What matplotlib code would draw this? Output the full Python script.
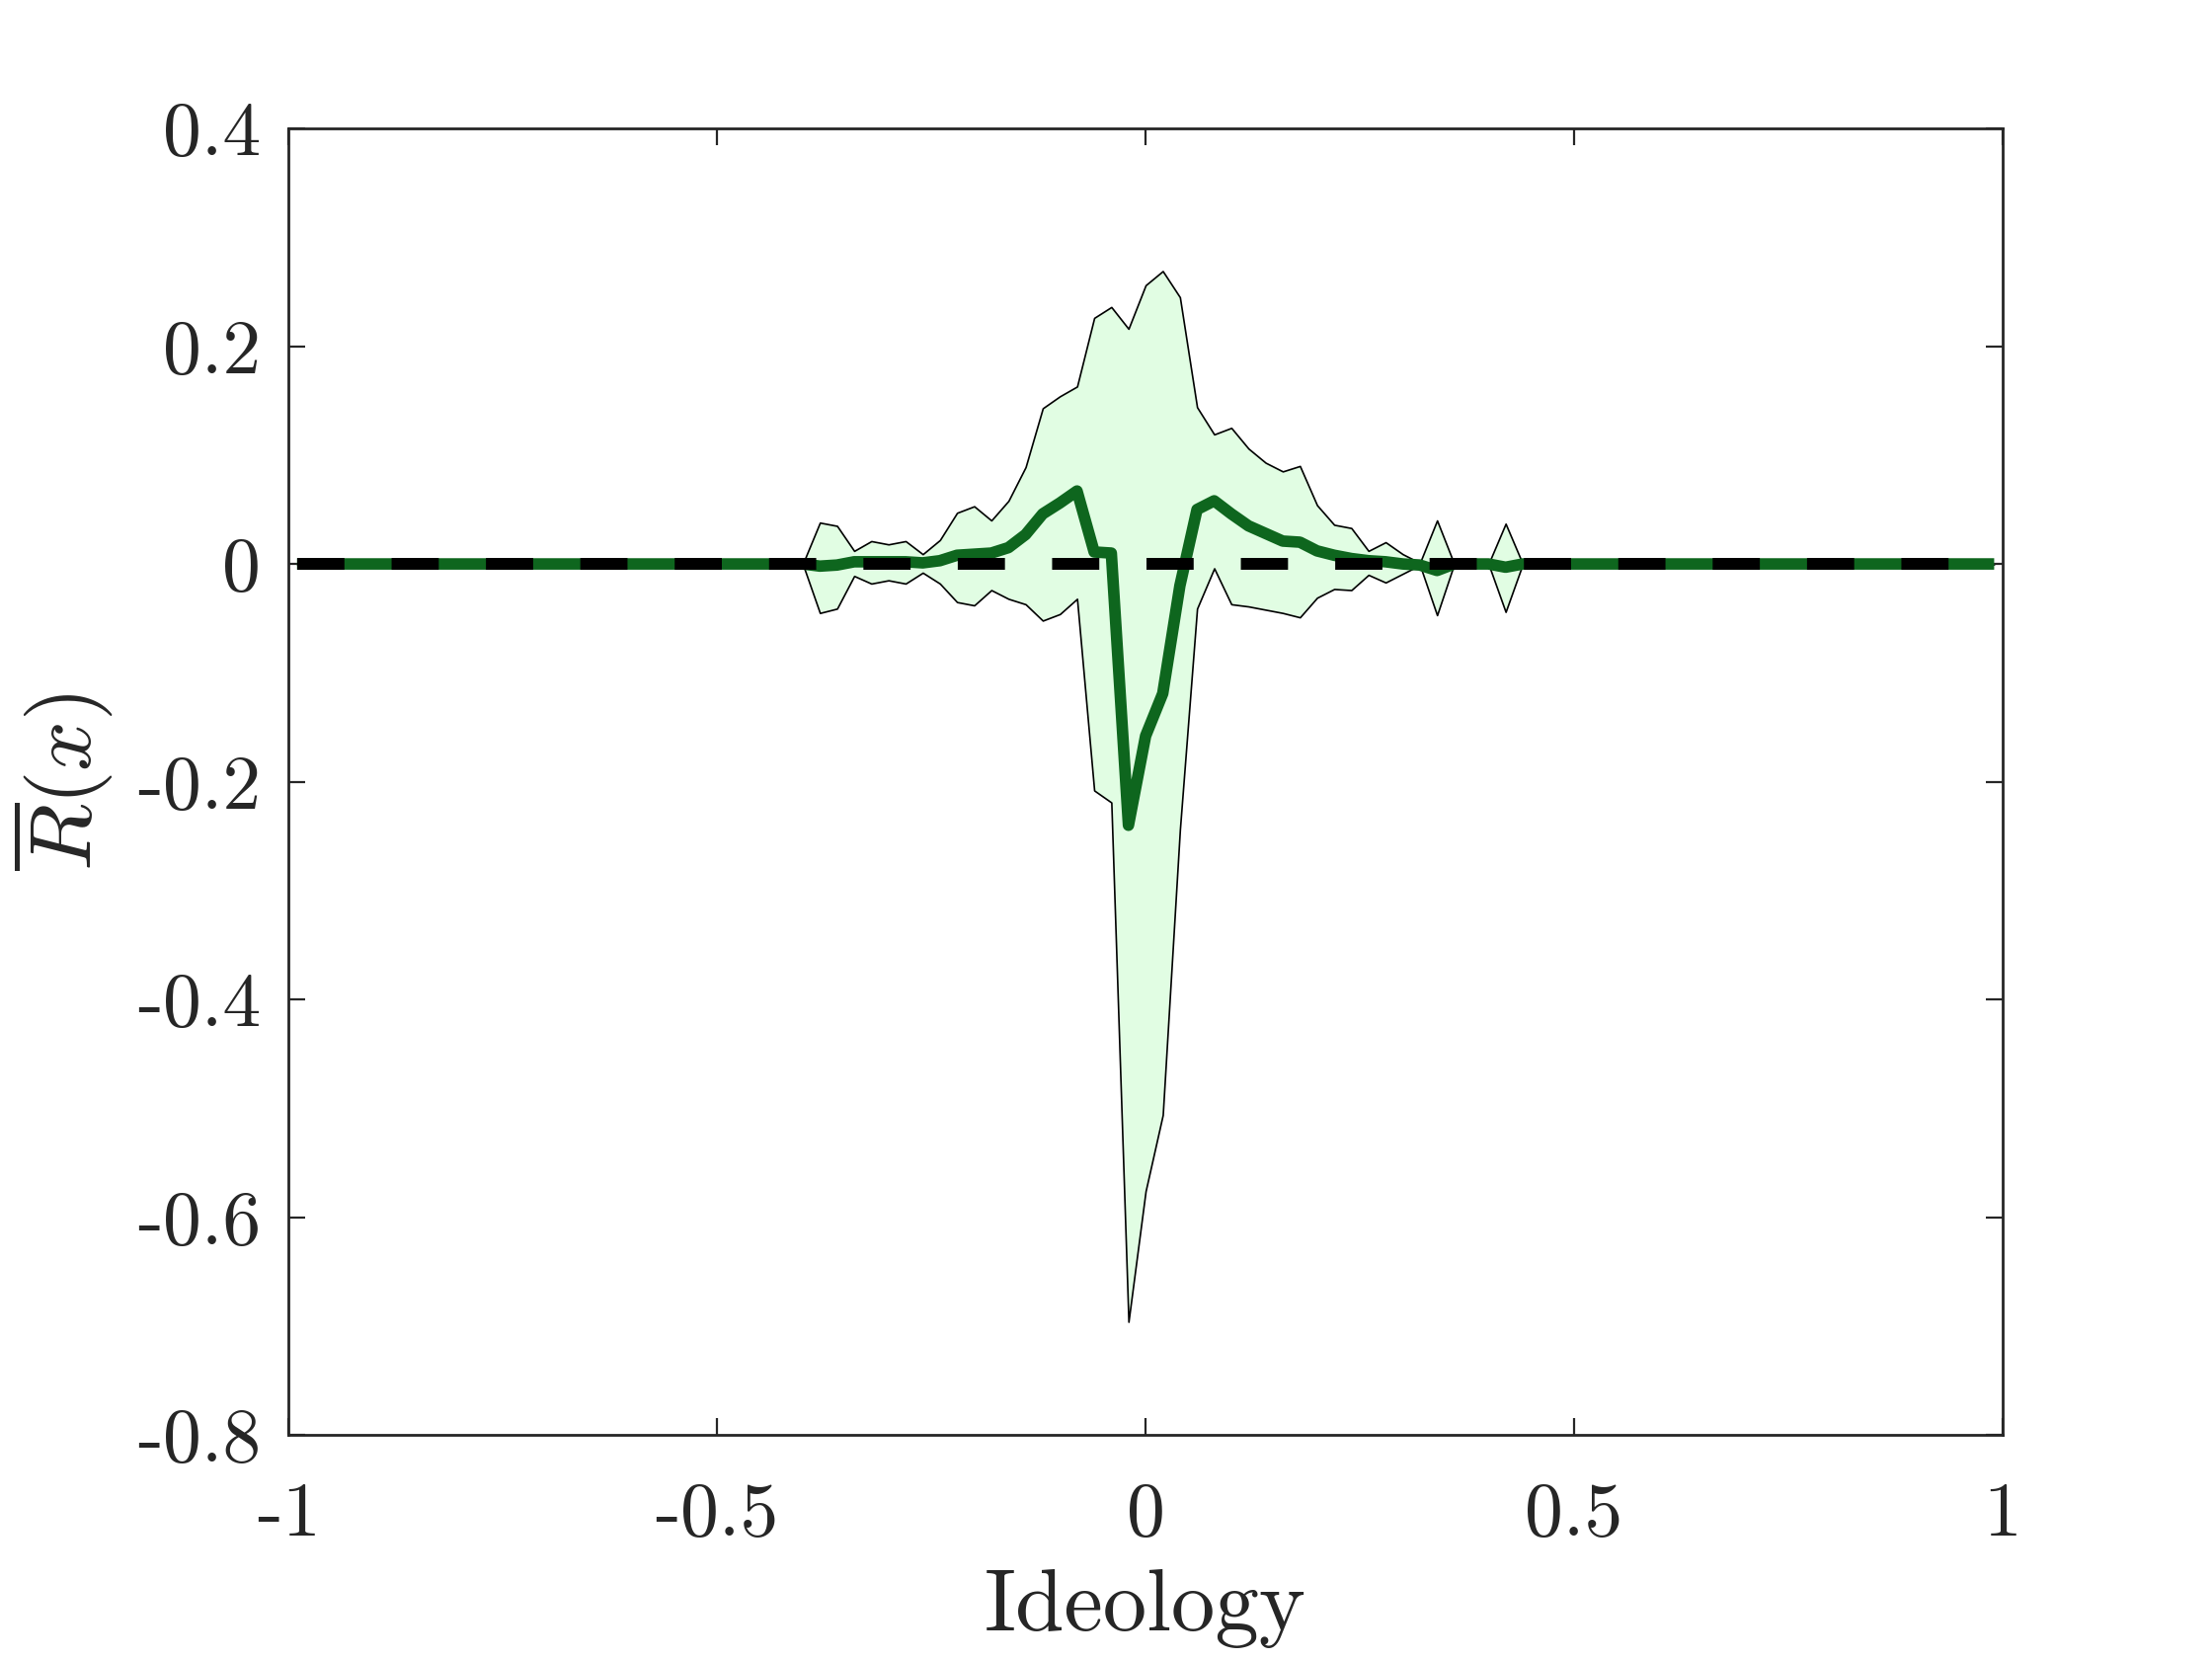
import numpy as np
import matplotlib
matplotlib.use('Agg')
import matplotlib.pyplot as plt

plt.rcParams['font.family'] = ['cmr10', 'DejaVu Serif']
plt.rcParams['mathtext.fontset'] = 'cm'
plt.rcParams['axes.unicode_minus'] = False

# ideology grid where the band is non-zero (step 0.02), zero elsewhere
x_band = [-0.40, -0.38, -0.36, -0.34, -0.32, -0.30, -0.28, -0.26, -0.24, -0.22,
          -0.20, -0.18, -0.16, -0.14, -0.12, -0.10, -0.08, -0.06, -0.04, -0.02,
          0.00, 0.02, 0.04, 0.06, 0.08, 0.10, 0.12, 0.14, 0.16, 0.18,
          0.20, 0.22, 0.24, 0.26, 0.28, 0.30, 0.32, 0.34, 0.36, 0.38,
          0.40, 0.42, 0.44]
upper = [0.000, 0.038, 0.035, 0.012, 0.021, 0.018, 0.021, 0.009, 0.022, 0.047,
         0.053, 0.040, 0.058, 0.089, 0.143, 0.154, 0.163, 0.226, 0.236, 0.216,
         0.256, 0.269, 0.245, 0.144, 0.119, 0.125, 0.106, 0.093, 0.085, 0.090,
         0.054, 0.036, 0.033, 0.012, 0.020, 0.009, 0.001, 0.040, 0.000, 0.000,
         0.000, 0.037, 0.000]
lower = [0.000, -0.045, -0.041, -0.011, -0.018, -0.015, -0.018, -0.008, -0.018, -0.035,
         -0.038, -0.024, -0.032, -0.037, -0.052, -0.046, -0.032, -0.208, -0.219, -0.696,
         -0.576, -0.506, -0.244, -0.041, -0.004, -0.037, -0.039, -0.042, -0.045, -0.049,
         -0.031, -0.023, -0.024, -0.010, -0.017, -0.009, -0.001, -0.047, 0.000, 0.000,
         0.000, -0.044, 0.000]
mean = [0.000, -0.002, -0.001, 0.002, 0.002, 0.002, 0.002, 0.001, 0.003, 0.008,
        0.009, 0.010, 0.015, 0.027, 0.046, 0.056, 0.067, 0.011, 0.010, -0.240,
        -0.158, -0.119, -0.020, 0.050, 0.058, 0.046, 0.035, 0.028, 0.021, 0.020,
        0.012, 0.008, 0.005, 0.003, 0.002, 0.000, -0.001, -0.006, 0.000, 0.000,
        0.000, -0.003, 0.000]

xticks = [-1, -0.5, 0, 0.5, 1]
xticklabels = ['-1', '-0.5', '0', '0.5', '1']
yticks = [-0.8, -0.6, -0.4, -0.2, 0, 0.2, 0.4]
yticklabels = ['-0.8', '-0.6', '-0.4', '-0.2', '0', '0.2', '0.4']

# lines span -0.99..0.99, zero outside the band
x_left = np.concatenate([[-0.99], np.round(np.arange(-0.98, -0.40, 0.02), 2)])
x_right = np.concatenate([np.round(np.arange(0.46, 0.9801, 0.02), 2), [0.99]])
x = np.concatenate([x_left, x_band, x_right])
pad_l = np.zeros(len(x_left))
pad_r = np.zeros(len(x_right))
up = np.concatenate([pad_l, upper, pad_r])
lo = np.concatenate([pad_l, lower, pad_r])
mu = np.concatenate([pad_l, mean, pad_r])

fig = plt.figure(figsize=(11.2, 8.4), dpi=200)
ax = fig.add_axes([0.1304, 0.135, 0.775, 0.7876])

ax.fill_between(x, lo, up, facecolor='#e1fde3', edgecolor='black', linewidth=0.6, zorder=1)
ax.plot(x, mu, color='#0e661e', linewidth=4.2, solid_joinstyle='round',
        solid_capstyle='butt', zorder=2)
ax.plot(x, np.zeros(len(x)), color='black', linewidth=4.3,
        linestyle=(0, (4, 4)), dash_capstyle='butt', zorder=3)

ax.set_xlim(-1, 1)
ax.set_ylim(-0.8, 0.4)
ax.set_xticks(xticks)
ax.set_xticklabels(xticklabels)
ax.set_yticks(yticks)
ax.set_yticklabels(yticklabels)

ax.tick_params(direction='in', length=6, width=0.8, top=True, right=True,
               labelsize=28, colors='#262626', pad=17)
ax.tick_params(axis='y', pad=10)
for s in ax.spines.values():
    s.set_linewidth(1.0)
    s.set_color('#262626')

ax.set_xlabel('Ideology', fontsize=32, color='#262626', labelpad=7)
ax.set_ylabel(r'$\overline{R}(x)$', fontsize=32, color='#262626', labelpad=8)

fig.savefig('out.png', dpi=200, facecolor='white')
